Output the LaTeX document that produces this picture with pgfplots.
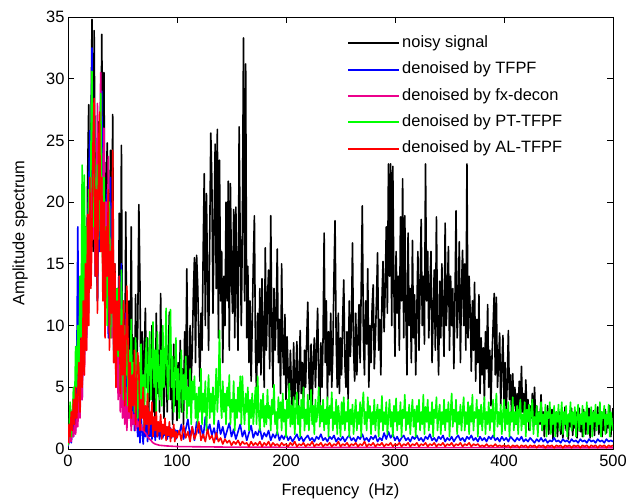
\documentclass[border=0pt]{standalone}
\usepackage{fontspec}
\setmainfont{Liberation Sans}
\usepackage{pgfplots}
\usepackage{pgfplotstable}
\pgfplotsset{compat=1.18}
\begin{document}
% noisy signal (k) and PT-TFPF (g)
\pgfplotstableread[row sep=\\]{
x k g\\
0 0.3 0.3\\ 1 1.2 1.5\\ 2 2.5 3.8\\ 3 1.0 1.0\\ 4 3.2 2.5\\ 5 1.8 5.0\\ 6 4.5 3.0\\ 7 2.2 8.3\\ 8 5.0 5.0\\ 9 3.5 10.0\\
10 8.0 6.0\\ 11 4.0 14.0\\ 12 12.0 9.0\\ 13 6.5 23.0\\ 14 15.5 10.0\\ 15 9.0 22.2\\ 16 18.0 12.0\\ 17 11.0 18.0\\ 18 22.0 14.0\\ 19 27.9 21.0\\
20 14.0 16.0\\ 21 25.0 24.0\\ 22 34.8 30.6\\ 23 16.0 18.0\\ 24 33.9 27.0\\ 25 20.0 20.0\\ 26 24.0 15.0\\ 27 12.0 23.0\\ 28 26.5 17.0\\ 29 18.0 21.0\\
30 22.0 28.8\\ 31 33.6 19.0\\ 32 19.0 14.0\\ 33 30.5 22.0\\ 34 14.0 12.0\\ 35 21.0 18.0\\ 36 24.8 10.0\\ 37 10.0 16.0\\ 38 16.0 20.0\\ 39 24.2 9.0\\
40 12.0 14.0\\ 41 27.1 17.0\\ 42 9.0 8.0\\ 43 15.0 12.0\\ 44 7.0 6.0\\ 45 13.0 13.0\\ 46 6.0 7.5\\ 47 19.1 11.0\\ 48 8.0 5.0\\ 49 24.6 14.5\\
50 5.0 8.0\\ 51 11.0 4.0\\ 52 4.0 10.0\\ 53 19.2 6.0\\ 54 7.0 9.5\\ 55 3.5 3.5\\ 56 12.0 8.0\\ 57 6.0 5.0\\ 58 18.0 10.5\\ 59 5.0 4.0\\
60 9.0 7.0\\ 61 3.0 3.0\\ 62 12.5 9.0\\ 63 6.0 5.5\\ 64 10.0 2.5\\ 65 19.8 7.0\\ 66 13.7 4.0\\ 67 4.0 8.5\\ 68 9.5 3.0\\ 69 3.0 6.0\\
70 8.0 2.0\\ 71 11.4 7.0\\ 72 5.0 9.0\\ 73 9.0 3.5\\ 74 2.5 6.5\\ 75 7.5 9.5\\ 76 4.0 4.0\\ 77 10.0 7.0\\ 78 3.0 10.3\\ 79 6.5 5.0\\
80 2.0 8.0\\ 81 11.0 3.0\\ 82 4.5 9.5\\ 83 8.0 6.0\\ 84 3.0 4.0\\ 85 12.6 8.0\\ 86 5.0 3.5\\ 87 7.0 10.0\\ 88 2.5 5.0\\ 89 6.0 7.0\\
90 9.0 11.4\\ 91 3.0 6.0\\ 92 7.5 4.0\\ 93 11.1 8.0\\ 94 4.0 11.3\\ 95 6.0 5.0\\ 96 2.0 7.5\\ 97 8.5 3.0\\ 98 3.5 6.0\\ 99 5.5 9.0\\
100 2.3 4.0\\ 101 7.0 6.5\\ 102 4.0 2.5\\ 103 8.8 5.5\\ 104 3.0 8.0\\ 105 6.5 3.0\\ 106 2.0 6.0\\ 107 9.5 4.0\\ 108 5.0 7.5\\ 109 14.6 2.5\\
110 6.0 5.0\\ 111 3.5 3.5\\ 112 10.0 6.5\\ 113 5.5 2.0\\ 114 8.0 5.5\\ 115 12.5 4.0\\ 116 15.5 5.9\\ 117 7.0 2.5\\ 118 15.7 4.5\\ 119 13.2 1.8\\
120 9.0 5.0\\ 121 5.5 3.0\\ 122 11.0 6.5\\ 123 8.0 2.0\\ 124 16.0 4.5\\ 125 22.3 3.0\\ 126 10.0 5.5\\ 127 20.7 1.5\\ 128 14.0 4.0\\ 129 8.0 6.0\\
130 17.0 2.5\\ 131 25.6 4.5\\ 132 21.7 3.0\\ 133 11.0 5.0\\ 134 18.0 2.0\\ 135 24.7 4.0\\ 136 13.0 6.5\\ 137 25.9 3.0\\ 138 9.0 5.0\\ 139 23.4 9.6\\
140 12.0 4.0\\ 141 16.0 2.5\\ 142 7.0 5.5\\ 143 14.0 3.0\\ 144 10.0 4.5\\ 145 20.0 2.0\\ 146 12.0 5.0\\ 147 21.7 3.5\\ 148 8.0 6.0\\ 149 21.5 2.0\\
150 14.0 4.0\\ 151 11.0 3.0\\ 152 19.4 5.5\\ 153 9.0 1.5\\ 154 19.6 4.0\\ 155 13.0 2.5\\ 156 8.0 5.0\\ 157 26.1 3.0\\ 158 16.8 5.9\\ 159 10.0 2.0\\
160 18.0 5.9\\ 161 33.3 3.5\\ 162 12.0 2.0\\ 163 31.2 4.5\\ 164 9.0 3.0\\ 165 14.8 5.0\\ 166 7.0 1.5\\ 167 12.0 4.0\\ 168 5.5 2.5\\ 169 10.0 4.5\\
170 15.0 2.0\\ 171 18.9 3.5\\ 172 8.0 5.0\\ 173 4.5 2.0\\ 174 11.0 5.9\\ 175 7.0 3.0\\ 176 13.0 1.5\\ 177 6.0 4.0\\ 178 13.8 2.5\\ 179 9.0 4.5\\
180 5.0 1.8\\ 181 16.3 3.5\\ 182 8.0 2.0\\ 183 12.0 4.8\\ 184 14.5 2.5\\ 185 6.5 3.5\\ 186 18.9 1.5\\ 187 10.0 4.0\\ 188 5.0 2.8\\ 189 13.0 5.2\\
190 8.0 2.0\\ 191 11.0 3.0\\ 192 16.2 1.2\\ 193 7.0 4.2\\ 194 10.5 2.5\\ 195 4.5 3.8\\ 196 15.0 1.5\\ 197 8.0 4.5\\ 198 6.0 2.2\\ 199 10.9 3.2\\
200 4.0 1.0\\ 201 9.1 4.0\\ 202 6.0 2.5\\ 203 3.5 5.3\\ 204 8.0 1.8\\ 205 5.0 3.5\\ 206 2.5 2.0\\ 207 8.6 4.2\\ 208 4.0 1.2\\ 209 6.0 3.0\\
210 8.7 4.6\\ 211 3.0 2.0\\ 212 5.5 3.5\\ 213 9.6 1.0\\ 214 4.5 4.0\\ 215 7.0 2.5\\ 216 3.0 5.0\\ 217 8.0 1.5\\ 218 5.0 3.2\\ 219 9.0 2.0\\
220 11.9 4.4\\ 221 6.0 1.5\\ 222 4.0 3.0\\ 223 8.5 4.8\\ 224 3.5 2.0\\ 225 7.0 3.5\\ 226 9.0 1.2\\ 227 5.0 4.0\\ 228 8.0 2.2\\ 229 11.4 3.0\\
230 6.0 5.0\\ 231 3.0 1.8\\ 232 8.6 3.5\\ 233 5.0 2.2\\ 234 9.0 4.0\\ 235 17.5 1.5\\ 236 7.0 3.2\\ 237 12.0 2.0\\ 238 4.0 4.2\\ 239 9.5 1.0\\
240 6.0 3.5\\ 241 11.0 2.5\\ 242 5.0 4.6\\ 243 8.0 1.5\\ 244 14.0 3.0\\ 245 18.5 2.0\\ 246 9.0 4.0\\ 247 5.0 1.2\\ 248 11.0 3.5\\ 249 4.5 2.5\\
250 9.0 1.0\\ 251 6.0 3.8\\ 252 10.5 2.0\\ 253 13.7 4.2\\ 254 7.0 1.5\\ 255 5.0 3.0\\ 256 9.5 2.2\\ 257 4.0 4.0\\ 258 12.0 1.0\\ 259 7.5 3.2\\
260 10.0 2.0\\ 261 16.7 3.6\\ 262 8.0 1.2\\ 263 5.5 2.8\\ 264 11.0 4.0\\ 265 6.0 1.5\\ 266 9.0 3.0\\ 267 11.7 2.0\\ 268 7.0 3.8\\ 269 13.0 1.0\\
270 19.7 3.4\\ 271 9.0 4.6\\ 272 6.0 2.0\\ 273 12.0 3.0\\ 274 8.5 1.5\\ 275 14.6 4.2\\ 276 5.0 2.5\\ 277 10.0 3.5\\ 278 7.0 1.2\\ 279 11.5 3.0\\
280 13.3 2.0\\ 281 6.5 4.0\\ 282 9.0 1.5\\ 283 12.0 2.8\\ 284 15.9 3.6\\ 285 8.0 1.0\\ 286 10.5 3.2\\ 287 6.0 2.2\\ 288 12.0 4.3\\ 289 15.2 1.5\\
290 9.5 3.0\\ 291 13.0 2.0\\ 292 18.0 3.8\\ 293 11.0 1.2\\ 294 23.1 2.6\\ 295 14.0 4.0\\ 296 23.1 1.8\\ 297 10.0 3.0\\ 298 22.9 1.0\\ 299 13.0 3.5\\
300 7.5 2.2\\ 301 16.0 4.1\\ 302 11.0 1.5\\ 303 14.0 3.0\\ 304 8.0 2.0\\ 305 18.8 3.8\\ 306 12.0 1.0\\ 307 21.9 3.2\\ 308 9.0 2.5\\ 309 18.9 4.4\\
310 11.0 1.5\\ 311 6.0 3.0\\ 312 17.5 2.0\\ 313 10.0 3.6\\ 314 13.0 1.2\\ 315 7.0 2.8\\ 316 16.9 4.0\\ 317 9.0 1.8\\ 318 12.5 3.2\\ 319 6.0 1.0\\
320 11.0 3.5\\ 321 16.0 2.2\\ 322 8.0 4.0\\ 323 13.0 1.5\\ 324 18.6 3.0\\ 325 10.0 2.0\\ 326 14.0 4.4\\ 327 8.5 1.2\\ 328 23.1 3.4\\ 329 12.0 2.2\\
330 16.0 4.0\\ 331 9.0 1.5\\ 332 13.0 3.0\\ 333 16.0 2.0\\ 334 7.0 3.8\\ 335 11.0 1.0\\ 336 14.5 3.2\\ 337 8.0 2.5\\ 338 18.8 4.2\\ 339 10.0 1.5\\
340 6.0 2.8\\ 341 13.6 3.6\\ 342 9.0 1.2\\ 343 15.0 3.0\\ 344 11.0 2.0\\ 345 7.5 4.0\\ 346 18.3 1.5\\ 347 10.0 3.2\\ 348 12.5 2.2\\ 349 16.4 3.8\\
350 8.0 1.0\\ 351 14.0 3.0\\ 352 10.0 4.5\\ 353 13.0 1.8\\ 354 6.5 3.2\\ 355 12.0 2.2\\ 356 19.3 4.0\\ 357 9.0 1.2\\ 358 11.8 3.0\\ 359 16.8 2.0\\
360 7.0 3.6\\ 361 13.0 1.5\\ 362 16.1 3.0\\ 363 10.0 4.2\\ 364 15.0 1.5\\ 365 8.0 3.0\\ 366 23.1 2.0\\ 367 9.0 3.8\\ 368 14.0 1.2\\ 369 11.0 3.5\\
370 6.3 2.2\\ 371 12.0 4.4\\ 372 8.0 1.5\\ 373 13.5 3.0\\ 374 5.5 2.5\\ 375 10.5 4.0\\ 376 7.0 1.0\\ 377 12.5 3.2\\ 378 4.5 2.0\\ 379 9.0 3.6\\
380 6.0 1.5\\ 381 8.2 2.8\\ 382 4.0 4.2\\ 383 9.5 1.2\\ 384 6.5 3.0\\ 385 11.7 2.0\\ 386 5.0 3.8\\ 387 8.0 1.5\\ 388 3.5 3.2\\ 389 7.5 2.2\\
390 10.0 4.0\\ 391 12.6 1.0\\ 392 6.0 3.0\\ 393 12.3 4.5\\ 394 5.0 1.8\\ 395 7.0 3.0\\ 396 9.4 2.0\\ 397 3.5 3.6\\ 398 6.5 1.2\\ 399 9.2 2.8\\
400 4.0 4.0\\ 401 7.0 1.5\\ 402 3.0 3.2\\ 403 5.5 2.0\\ 404 9.6 3.8\\ 405 4.0 1.0\\ 406 6.0 3.0\\ 407 2.5 2.2\\ 408 6.1 4.2\\ 409 3.5 1.5\\
410 5.0 3.0\\ 411 2.0 2.0\\ 412 4.5 3.5\\ 413 3.0 1.2\\ 414 5.5 3.2\\ 415 2.5 4.0\\ 416 6.7 1.5\\ 417 3.0 2.8\\ 418 4.5 2.0\\ 419 2.0 3.8\\
420 5.6 1.0\\ 421 3.0 3.2\\ 422 4.0 2.2\\ 423 1.5 3.6\\ 424 3.5 1.5\\ 425 2.5 3.0\\ 426 4.5 4.0\\ 427 1.8 1.2\\ 428 5.0 2.6\\ 429 2.5 2.0\\
430 3.5 3.5\\ 431 1.5 1.0\\ 432 3.0 3.0\\ 433 2.0 2.2\\ 434 4.4 3.8\\ 435 1.5 1.5\\ 436 3.0 2.8\\ 437 1.0 2.0\\ 438 2.8 3.6\\ 439 1.8 1.0\\
440 3.5 3.0\\ 441 1.2 2.5\\ 442 2.5 3.8\\ 443 1.5 1.2\\ 444 3.2 2.8\\ 445 0.8 2.0\\ 446 2.6 3.5\\ 447 1.8 1.0\\ 448 3.0 3.0\\ 449 1.0 2.2\\
450 2.4 3.6\\ 451 3.0 1.5\\ 452 1.2 2.6\\ 453 2.8 3.8\\ 454 0.9 1.2\\ 455 2.2 3.0\\ 456 3.4 2.0\\ 457 1.5 3.5\\ 458 2.6 1.0\\ 459 0.8 2.8\\
460 2.9 2.2\\ 461 1.8 3.8\\ 462 3.3 1.5\\ 463 1.1 3.0\\ 464 2.5 2.0\\ 465 1.7 3.4\\ 466 3.0 1.0\\ 467 0.9 2.6\\ 468 2.2 3.6\\ 469 3.3 1.5\\
470 1.4 2.8\\ 471 2.7 2.0\\ 472 1.0 3.5\\ 473 3.2 1.0\\ 474 2.0 3.0\\ 475 1.2 2.2\\ 476 2.9 3.8\\ 477 1.6 1.2\\ 478 3.3 2.6\\ 479 0.9 2.0\\
480 2.4 3.4\\ 481 1.6 1.0\\ 482 3.1 3.0\\ 483 1.1 2.2\\ 484 2.7 3.6\\ 485 1.9 1.5\\ 486 3.4 2.8\\ 487 1.2 2.0\\ 488 2.3 3.8\\ 489 3.0 1.0\\
490 1.0 3.0\\ 491 2.6 2.5\\ 492 1.5 3.5\\ 493 3.2 1.2\\ 494 1.3 2.8\\ 495 2.8 2.0\\ 496 1.7 3.6\\ 497 3.5 1.0\\ 498 1.0 3.0\\ 499 2.5 2.2\\
500 3.3 1.5\\
}\tblKG
% TFPF (b) and AL-TFPF (r)
\pgfplotstableread[row sep=\\]{
x b r\\
0 0.2 0.5\\ 1 0.8 2.0\\ 2 1.5 1.0\\ 3 0.5 3.0\\ 4 2.0 1.5\\ 5 1.0 4.0\\ 6 3.0 2.0\\ 7 1.5 5.0\\ 8 6.0 2.5\\ 9 18.0 4.5\\
10 3.0 7.0\\ 11 5.0 3.0\\ 12 8.0 9.0\\ 13 4.0 5.0\\ 14 11.0 12.0\\ 15 7.0 6.0\\ 16 14.0 15.0\\ 17 9.0 8.0\\ 18 17.0 19.0\\ 19 21.0 10.0\\
20 25.8 22.0\\ 21 15.0 13.0\\ 22 32.5 17.0\\ 23 19.0 25.0\\ 24 26.0 28.4\\ 25 14.0 14.0\\ 26 22.0 21.0\\ 27 12.0 11.0\\ 28 20.0 24.0\\ 29 16.0 27.3\\
30 23.0 16.0\\ 31 29.0 22.0\\ 32 15.0 12.0\\ 33 24.0 20.0\\ 34 11.0 9.0\\ 35 19.0 18.0\\ 36 21.0 14.0\\ 37 9.0 21.0\\ 38 15.0 8.0\\ 39 22.0 16.0\\
40 10.0 11.0\\ 41 20.0 24.2\\ 42 8.0 7.0\\ 43 13.0 15.0\\ 44 6.0 5.0\\ 45 11.0 12.0\\ 46 5.0 8.0\\ 47 14.0 14.0\\ 48 7.0 4.5\\ 49 15.0 10.0\\
50 4.0 6.0\\ 51 9.0 12.0\\ 52 3.0 3.5\\ 53 11.0 8.0\\ 54 5.0 13.2\\ 55 2.5 9.0\\ 56 7.0 3.0\\ 57 3.5 7.0\\ 58 6.0 2.5\\ 59 2.0 6.0\\
60 5.0 3.5\\ 61 1.5 8.0\\ 62 4.0 2.0\\ 63 2.5 5.5\\ 64 1.0 7.8\\ 65 3.5 6.5\\ 66 0.5 1.5\\ 67 2.8 4.0\\ 68 1.5 2.5\\ 69 0.4 5.0\\
70 2.2 1.5\\ 71 1.0 3.5\\ 72 3.0 2.0\\ 73 0.6 4.5\\ 74 1.8 1.2\\ 75 1.0 3.0\\ 76 2.5 2.0\\ 77 0.8 3.8\\ 78 1.5 1.0\\ 79 2.2 2.6\\
80 0.7 1.5\\ 81 1.6 3.0\\ 82 1.0 1.0\\ 83 2.0 2.2\\ 84 0.8 1.4\\ 85 1.4 2.8\\ 86 2.0 0.8\\ 87 0.9 2.0\\ 88 1.6 1.2\\ 89 1.1 2.5\\
90 1.8 0.7\\ 91 0.8 1.8\\ 92 1.5 1.1\\ 93 1.0 2.2\\ 94 1.7 0.6\\ 95 0.9 1.6\\ 96 1.4 1.0\\ 97 1.0 2.0\\ 98 1.6 0.6\\ 99 0.8 1.4\\
100 1.5 0.9\\ 102 1.2 1.5\\ 104 2.0 0.7\\ 106 0.8 1.9\\ 108 1.6 0.9\\ 110 2.4 1.4\\ 112 1.0 0.6\\ 114 1.8 1.8\\ 116 0.7 0.8\\ 118 2.2 1.3\\
120 1.3 2.2\\ 122 1.9 0.7\\ 124 0.9 1.2\\ 126 2.6 0.6\\ 128 1.4 1.6\\ 130 2.0 0.8\\ 132 1.1 1.1\\ 134 1.7 0.5\\ 136 0.8 1.3\\ 138 2.3 0.6\\
140 1.2 0.9\\ 142 1.8 0.4\\ 144 0.9 0.8\\ 146 1.5 0.5\\ 148 2.1 0.7\\ 150 1.0 0.3\\ 152 1.6 0.6\\ 154 0.8 0.4\\ 156 1.4 0.7\\ 158 2.0 0.3\\
160 1.0 0.6\\ 162 1.5 0.4\\ 164 0.7 0.5\\ 166 1.3 0.2\\ 168 1.9 0.6\\ 170 0.9 0.3\\ 172 1.4 0.5\\ 174 1.1 0.3\\ 176 1.7 0.6\\ 178 0.8 0.2\\
180 1.3 0.5\\ 182 1.0 0.3\\ 184 1.5 0.6\\ 186 0.7 0.2\\ 188 1.2 0.5\\ 190 0.9 0.3\\ 192 1.4 0.4\\ 194 0.7 0.2\\ 196 1.1 0.5\\ 198 0.8 0.3\\
200 1.2 0.4\\ 202 0.7 0.2\\ 204 1.0 0.5\\ 206 0.6 0.3\\ 208 0.9 0.6\\ 210 1.2 0.2\\ 212 0.7 0.4\\ 214 1.0 0.3\\ 216 0.6 0.5\\ 218 0.9 0.2\\
220 1.1 0.4\\ 222 0.7 0.3\\ 224 0.9 0.6\\ 226 0.6 0.2\\ 228 1.0 0.4\\ 230 0.8 0.3\\ 232 1.2 0.5\\ 234 0.7 0.2\\ 236 0.9 0.4\\ 238 0.6 0.3\\
240 1.0 0.5\\ 242 0.8 0.2\\ 244 1.1 0.4\\ 246 0.6 0.3\\ 248 0.9 0.6\\ 250 0.7 0.2\\ 252 1.0 0.4\\ 254 0.6 0.3\\ 256 0.9 0.5\\ 258 1.1 0.2\\
260 0.7 0.4\\ 262 0.9 0.3\\ 264 0.6 0.5\\ 266 1.0 0.2\\ 268 0.8 0.4\\ 270 1.2 0.3\\ 272 0.7 0.6\\ 274 0.9 0.2\\ 276 0.6 0.4\\ 278 1.0 0.3\\
280 0.8 0.5\\ 282 1.1 0.2\\ 284 0.6 0.4\\ 286 0.9 0.3\\ 288 0.7 0.5\\ 290 1.3 0.2\\ 292 0.8 0.4\\ 294 1.4 0.3\\ 296 0.9 0.5\\ 298 1.2 0.2\\
300 0.7 0.4\\ 302 1.0 0.3\\ 304 0.6 0.5\\ 306 0.9 0.2\\ 308 1.1 0.4\\ 310 0.7 0.3\\ 312 0.9 0.5\\ 314 0.6 0.2\\ 316 1.0 0.4\\ 318 0.8 0.3\\
320 1.1 0.5\\ 322 0.7 0.2\\ 324 0.9 0.4\\ 326 0.6 0.3\\ 328 1.0 0.5\\ 330 0.8 0.2\\ 332 1.2 0.4\\ 334 0.7 0.3\\ 336 0.9 0.5\\ 338 0.6 0.2\\
340 1.0 0.4\\ 342 0.8 0.3\\ 344 1.1 0.5\\ 346 0.6 0.2\\ 348 0.9 0.4\\ 350 0.7 0.3\\ 352 1.0 0.5\\ 354 0.6 0.2\\ 356 0.9 0.4\\ 358 1.1 0.3\\
360 0.7 0.5\\ 362 0.9 0.2\\ 364 0.6 0.4\\ 366 1.0 0.3\\ 368 0.8 0.5\\ 370 1.1 0.2\\ 372 0.7 0.4\\ 374 0.9 0.3\\ 376 0.6 0.4\\ 378 1.0 0.2\\
380 0.7 0.3\\ 382 0.9 0.2\\ 384 0.6 0.4\\ 386 1.0 0.2\\ 388 0.8 0.3\\ 390 1.1 0.2\\ 392 0.7 0.4\\ 394 0.9 0.2\\ 396 0.6 0.3\\ 398 1.0 0.2\\
400 0.7 0.3\\ 402 0.9 0.2\\ 404 0.6 0.3\\ 406 1.0 0.1\\ 408 0.8 0.3\\ 410 0.6 0.2\\ 412 0.9 0.3\\ 414 0.7 0.1\\ 416 1.0 0.3\\ 418 0.6 0.2\\
420 0.8 0.3\\ 422 0.6 0.1\\ 424 0.9 0.3\\ 426 0.7 0.2\\ 428 0.5 0.3\\ 430 0.8 0.1\\ 432 0.6 0.3\\ 434 0.9 0.2\\ 436 0.6 0.3\\ 438 0.8 0.1\\
440 0.5 0.3\\ 442 0.7 0.2\\ 444 0.6 0.3\\ 446 0.9 0.1\\ 448 0.6 0.3\\ 450 0.7 0.2\\ 452 0.5 0.3\\ 454 0.8 0.1\\ 456 0.6 0.3\\ 458 0.7 0.2\\
460 0.5 0.3\\ 462 0.8 0.1\\ 464 0.6 0.3\\ 466 0.7 0.2\\ 468 0.5 0.3\\ 470 0.8 0.1\\ 472 0.6 0.3\\ 474 0.7 0.2\\ 476 0.5 0.3\\ 478 0.8 0.1\\
480 0.6 0.3\\ 482 0.7 0.2\\ 484 0.5 0.3\\ 486 0.8 0.1\\ 488 0.6 0.3\\ 490 0.7 0.2\\ 492 0.5 0.3\\ 494 0.8 0.1\\ 496 0.6 0.3\\ 498 0.7 0.2\\
500 0.6 0.3\\
}\tblBR
% fx-decon (m)
\pgfplotstableread[row sep=\\]{
x m\\
0 0.3\\ 1 0.5\\ 2 1.0\\ 3 0.6\\ 4 1.5\\ 5 1.0\\ 6 2.0\\ 7 1.2\\ 8 3.0\\ 9 1.8\\
10 5.0\\ 11 2.5\\ 12 7.0\\ 13 4.0\\ 14 10.0\\ 15 6.0\\ 16 13.0\\ 17 8.0\\ 18 16.0\\ 19 11.0\\
20 19.0\\ 21 14.0\\ 22 22.0\\ 23 17.0\\ 24 25.0\\ 25 15.0\\ 26 20.0\\ 27 28.0\\ 28 18.0\\ 29 24.0\\
30 30.5\\ 31 21.0\\ 32 16.0\\ 33 26.0\\ 34 13.0\\ 35 20.0\\ 36 15.0\\ 37 23.7\\ 38 11.0\\ 39 17.0\\
40 9.0\\ 41 14.0\\ 42 7.0\\ 43 12.0\\ 44 5.0\\ 45 10.0\\ 46 4.0\\ 47 8.0\\ 48 3.0\\ 49 7.0\\
50 2.5\\ 51 6.0\\ 52 2.0\\ 53 5.0\\ 54 1.5\\ 55 4.0\\ 56 2.5\\ 57 3.5\\ 58 1.5\\ 59 3.0\\
60 2.0\\ 61 2.8\\ 62 1.5\\ 63 2.5\\ 64 1.8\\ 65 2.2\\ 66 1.6\\ 67 2.0\\ 68 1.5\\ 69 1.7\\
70 1.4\\ 71 1.3\\ 72 1.2\\ 73 1.0\\ 74 0.9\\ 75 0.8\\ 76 0.7\\ 77 0.6\\ 78 0.5\\ 80 0.4\\
84 0.3\\ 90 0.25\\ 100 0.2\\ 150 0.15\\ 250 0.12\\ 500 0.1\\
}\tblM
\begin{tikzpicture}
\begin{axis}[
  width=545bp, height=432bp, scale only axis,
  xmin=0, xmax=500, ymin=0, ymax=35,
  xtick={0,100,...,500}, ytick={0,5,...,35},
  tick align=inside, xtick pos=both, ytick pos=both,
  major tick length=6bp,
  font=\fontsize{16.5}{20}\selectfont,
  /pgf/number format/assume math mode=true,
  xticklabel style={yshift=-3bp},
  xlabel={Frequency~~(Hz)}, ylabel={Amplitude spectrum},
  every axis x label/.style={at={(axis description cs:0.5,-0.097)},anchor=center},
  every axis y label/.style={at={(axis description cs:-0.088,0.5)},anchor=center,rotate=90},
  axis line style={line width=0.8bp},
  every tick/.style={black,line width=0.8bp},
  legend style={at={(axis description cs:0.512,0.962)},anchor=north west,draw=none,fill=none,
    inner sep=0pt,row sep=6.8bp,font=\fontsize{16.5}{20}\selectfont,
    nodes={inner sep=2bp,text height=12bp,text depth=3.5bp}},
  legend cell align=left,
  legend image code/.code={\draw[#1,line width=2bp] (0bp,0bp) -- (51bp,0bp);},
  no markers, line join=round,
]
\addplot[black, line width=1.6bp] table[x=x,y=k]{\tblKG};
\addlegendentry{noisy signal}
\addplot[blue, line width=1.6bp] table[x=x,y=b]{\tblBR};
\addlegendentry{denoised by TFPF}
\addplot[magenta, line width=1.6bp] table[x=x,y=m]{\tblM};
\addlegendentry{denoised by fx-decon}
\addplot[green, line width=1.6bp] table[x=x,y=g]{\tblKG};
\addlegendentry{denoised by PT-TFPF}
\addplot[red, line width=1.6bp] table[x=x,y=r]{\tblBR};
\addlegendentry{denoised by AL-TFPF}
\coordinate (bbl) at (rel axis cs:-0.12477,-0.12037);
\coordinate (btr) at (rel axis cs:1.03119,1.03935);
\end{axis}
\pgfresetboundingbox
\useasboundingbox (bbl) rectangle (btr);
\end{tikzpicture}
\end{document}
